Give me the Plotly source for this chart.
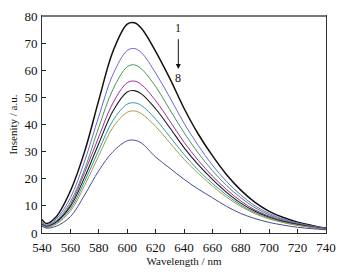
import plotly.graph_objects as go

wavelength = [540, 543, 550, 560, 570, 580, 590, 600, 605, 610, 620, 630, 640,
              650, 660, 670, 680, 690, 700, 710, 720, 730, 740]

curve1 = [5.0, 3.5, 6.0, 15.5, 30.0, 49.0, 67.0, 77.0, 77.5, 75.5, 67.0, 57.0, 46.0,
          36.5, 28.5, 21.5, 15.8, 11.3, 8.0, 5.7, 4.0, 2.8, 1.8]
curve2 = [4.0, 3.0, 5.2, 13.0, 26.5, 43.0, 58.5, 67.3, 68.0, 66.5, 59.0, 50.0, 40.5,
          32.3, 25.0, 19.0, 14.0, 10.0, 7.2, 5.1, 3.7, 2.6, 1.7]
curve3 = [3.5, 2.7, 4.6, 11.5, 23.5, 39.0, 53.0, 61.3, 62.0, 60.5, 54.0, 45.5, 37.0,
          29.5, 23.0, 17.5, 13.0, 9.3, 6.7, 4.8, 3.5, 2.5, 1.6]
curve4 = [3.3, 2.5, 4.2, 10.5, 22.3, 35.5, 48.0, 55.4, 56.0, 54.7, 48.8, 41.3, 33.5,
          26.8, 21.0, 16.0, 11.8, 8.5, 6.2, 4.5, 3.3, 2.4, 1.5]
curve5 = [3.2, 2.4, 4.0, 9.8, 20.5, 33.0, 45.0, 52.0, 52.5, 51.3, 45.8, 38.8, 31.5,
          25.2, 19.8, 15.0, 11.0, 8.0, 5.8, 4.2, 3.1, 2.2, 1.4]
curve6 = [3.0, 2.2, 3.6, 8.8, 19.0, 30.5, 41.5, 47.5, 48.0, 47.0, 42.0, 35.5, 29.0,
          23.2, 18.3, 14.0, 10.3, 7.5, 5.5, 4.0, 2.9, 2.1, 1.4]
curve7 = [2.8, 2.0, 3.3, 8.0, 17.5, 28.5, 39.0, 44.5, 45.0, 44.0, 39.3, 33.3, 27.2,
          22.0, 17.3, 13.2, 9.8, 7.1, 5.2, 3.8, 2.8, 2.0, 1.3]
curve8 = [2.5, 1.8, 2.5, 6.0, 14.0, 23.0, 30.0, 34.0, 34.2, 33.2, 28.0, 23.9, 19.8,
          16.2, 13.0, 9.8, 7.2, 5.3, 3.9, 2.9, 2.1, 1.6, 1.2]

series = [curve1, curve2, curve3, curve4, curve5, curve6, curve7, curve8]
names = ["1", "2", "3", "4", "5", "6", "7", "8"]
colors = ["#111111", "#6f63d8", "#3f9a55", "#a5289a", "#1a1a1a", "#2a9aa6", "#a89a45", "#4b4a98"]
widths = [1.5, 1.0, 1.0, 1.0, 1.1, 1.0, 1.0, 1.0]

x_ticks = [540, 560, 580, 600, 620, 640, 660, 680, 700, 720, 740]
y_ticks = [0, 10, 20, 30, 40, 50, 60, 70, 80]

fig = go.Figure()
for vals, nm, c, w in zip(series, names, colors, widths):
    fig.add_trace(go.Scatter(x=wavelength, y=vals, name=nm, mode="lines",
                             line=dict(color=c, width=w, shape="spline", smoothing=1.0)))

serif = "Liberation Serif, Times New Roman, serif"
font = dict(family=serif, size=13, color="#111")

fig.update_layout(
    width=357, height=272,
    margin=dict(l=42, r=31, t=9, b=39),
    paper_bgcolor="white", plot_bgcolor="white",
    showlegend=False, font=font,
    xaxis=dict(range=[540, 740], tickvals=x_ticks, ticks="inside", ticklen=4,
               tickcolor="#222", showline=True, linecolor="#333", linewidth=1,
               mirror=True, showgrid=False, zeroline=False, tickfont=dict(size=13),
               ticklabelstandoff=2,
               title=dict(text="Wavelength / nm", font=dict(size=11), standoff=1)),
    yaxis=dict(range=[0, 80], tickvals=y_ticks, ticks="inside", ticklen=4,
               tickcolor="#222", showline=True, linecolor="#333", linewidth=1,
               mirror=True, showgrid=False, zeroline=False, tickfont=dict(size=13),
               ticklabelstandoff=1,
               title=dict(text="Insenity / a.u.", font=dict(size=11), standoff=4)),
)

# slightly heavier grey top border as in the reference
fig.add_shape(type="line", xref="paper", yref="paper", x0=0, x1=1, y0=1, y1=1,
              line=dict(color="#777", width=2))

fig.add_annotation(x=636, y=60.5, ax=636, ay=72, xref="x", yref="y", axref="x", ayref="y",
                   showarrow=True, arrowhead=2, arrowsize=1, arrowwidth=1, arrowcolor="#111", text="")
fig.add_annotation(x=636, y=75.5, text="1", showarrow=False, xref="x", yref="y",
                   font=dict(size=12))
fig.add_annotation(x=636, y=57, text="8", showarrow=False, xref="x", yref="y",
                   font=dict(size=12))

fig.write_html("out.html", config={"displayModeBar": False},
               post_script="document.body.style.margin='0';document.body.style.padding='0';")
